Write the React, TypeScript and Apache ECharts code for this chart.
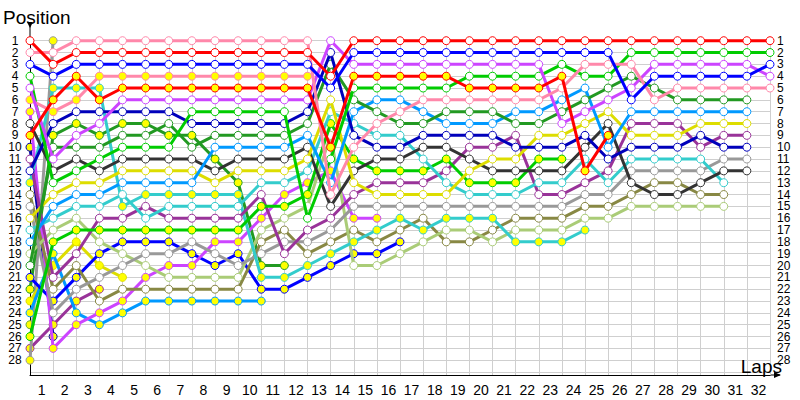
import React, { useEffect, useRef } from "react";
import * as echarts from "echarts";

// Lap numbers (x) — lap 0 is the starting grid
const LAPS = [0, 1, 2, 3, 4, 5, 6, 7, 8, 9, 10, 11, 12, 13, 14, 15, 16, 17, 18, 19, 20, 21, 22, 23, 24, 25, 26, 27, 28, 29, 30, 31, 32];
const LAP_LABELS = ["1", "2", "3", "4", "5", "6", "7", "8", "9", "10", "11", "12", "13", "14", "15", "16", "17", "18", "19", "20", "21", "22", "23", "24", "25", "26", "27", "28", "29", "30", "31", "32"];
const POSITION_LABELS = ["1", "2", "3", "4", "5", "6", "7", "8", "9", "10", "11", "12", "13", "14", "15", "16", "17", "18", "19", "20", "21", "22", "23", "24", "25", "26", "27", "28"];

const N = null;
// Position of each car at the end of every lap (index = lap)
const RED_A = [1, 3, 2, 2, 2, 2, 2, 2, 2, 2, 2, 2, 2, 4, 1, 1, 1, 1, 1, 1, 1, 1, 1, 1, 1, 1, 1, 1, 1, 1, 1, 1, 1];
const PINK_A = [2, 2, 1, 1, 1, 1, 1, 1, 1, 1, 1, 1, 1, 14, 10, 8, 7, 6, 6, 6, 6, 6, 6, 5, 3, 3, 3, 6, 5, 5, 5, 5, 5];
const BLUE_A = [3, 4, 3, 3, 3, 3, 3, 3, 3, 3, 3, 3, 3, 5, 2, 2, 2, 2, 2, 2, 2, 2, 2, 2, 2, 2, 6, 4, 4, 4, 4, 4, 3];
const RED_B = [9, 6, 4, 6, 5, 5, 5, 5, 5, 5, 5, 5, 5, 10, 4, 4, 4, 4, 4, 5, 5, 5, 5, 4, 12, 9, N, N, N, N, N, N, N];
const PINK_B = [6, 7, 6, 4, 4, 4, 4, 4, 4, 4, 4, 4, 4, N, N, N, N, N, N, N, N, N, N, N, N, N, N, N, N, N, N, N, N];
const MAGENTA_A = [5, 11, 9, 8, 6, 6, 6, 6, 6, 6, 6, 6, 6, 1, 3, 3, 3, 3, 3, 3, 3, 3, 3, 8, 7, 6, 5, 3, 3, 3, 3, 3, 4];
const GREEN_A = [4, 13, 12, 11, 10, 10, 10, 7, 7, 7, 7, 7, 16, 11, 5, 5, 5, 5, 5, 4, 4, 4, 4, 3, 4, 4, 2, 2, 2, 2, 2, 2, 2];
const NAVY_A = [12, 8, 7, 7, 7, 7, 7, 8, 8, 8, 8, 8, 7, 2, 9, 10, 10, 9, 9, 9, 9, 10, 10, 10, 9, 11, 10, 10, 10, 9, 10, 10, N];
const DKGREEN_A = [20, 10, 10, 10, 9, 9, 8, 10, 9, 9, 9, 9, 8, 3, 6, 7, 8, 8, 7, 7, 7, 8, 8, 7, 6, 5, 4, 5, 6, 6, 6, 6, N];
const DKGREEN_B = [22, 9, 8, 9, 8, 8, 9, 9, 11, 13, 20, 20, N, N, N, N, N, N, N, N, N, N, N, N, N, N, N, N, N, N, N, N, N];
const LTBLUE_A = [18, 15, 14, 14, 13, 13, 13, 13, 10, 10, 10, 10, 9, 13, 7, 6, 6, 7, 8, 8, 8, 7, 7, 6, 5, 10, 7, 7, 7, 7, 7, 7, N];
const LTBLUE_B = [24, 19, 24, 25, 24, 23, 23, 23, 23, 23, 23, N, N, N, N, N, N, N, N, N, N, N, N, N, N, N, N, N, N, N, N, N, N];
const CYAN_B = [13, 5, 5, 5, 15, 14, 14, 14, 14, 14, 21, 21, 20, 19, 18, 17, 16, 17, 16, 16, 16, 18, 18, 18, 17, N, N, N, N, N, N, N, N];
const CYAN_A = [17, 16, 15, 15, 14, 16, 15, 15, 15, 15, 13, 13, 12, 7, 8, 9, 9, 11, 13, 14, 14, 14, 13, 13, 11, 13, 11, 11, 11, 11, 13, N, N];
const DKGRAY = [8, 12, 11, 12, 11, 11, 11, 11, 12, 11, 11, 11, 10, 15, 12, 11, 11, 10, 10, 11, 12, 12, 12, 12, 10, 8, 13, 14, 14, 13, 12, 12, N];
const YELLOW_A = [16, 14, 13, 13, 12, 12, 12, 12, 13, 12, 12, 12, 11, 6, 13, 14, 14, 14, 14, 12, 11, 11, 9, 9, 8, 7, 9, 9, 9, 8, 8, 8, N];
const YELLOW_B = [23, 20, 18, 20, 21, N, N, N, N, N, N, N, N, N, N, N, N, N, N, N, N, N, N, N, N, N, N, N, N, N, N, N, N];
const GREEN_B = [26, 18, 17, 17, 17, 17, 17, 17, 17, 17, 15, 15, 14, 8, 11, 12, 12, 12, 11, 13, 13, 13, 11, 11, N, N, N, N, N, N, N, N, N];
const BLUE_B = [21, 23, 21, 19, 18, 18, 18, 19, 20, 19, 22, 22, 21, 20, 19, 19, 18, N, N, N, N, N, N, N, N, N, N, N, N, N, N, N, N];
const MAGENTA_B = [7, 27, 25, 24, 23, 21, 20, 20, 18, 18, 16, 14, 13, 12, 16, 16, N, N, N, N, N, N, N, N, N, N, N, N, N, N, N, N, N];
const LTGREEN = [19, 17, 16, 18, 19, 20, 21, 21, 21, 21, 17, 16, 15, 9, 20, 20, 19, 18, 17, 17, 18, 17, 17, 17, 16, 16, 15, 15, 15, 15, 15, N, N];
const GRAY_A = [15, 24, 22, 21, 20, 19, 19, 18, 19, 20, 19, 18, 18, 17, 15, 15, 15, 15, 15, 15, 15, 15, 15, 15, 14, 14, 12, 12, 12, 12, 11, 11, N];
const GRAY_B = [28, 1, N, N, N, N, N, N, N, N, N, N, N, N, N, N, N, N, N, N, N, N, N, N, N, N, N, N, N, N, N, N, N];
const OLIVE = [14, 22, 20, 23, 22, 22, 22, 22, 22, 22, 18, 17, 19, 18, 17, 18, 17, 16, 18, 18, 17, 16, 16, 16, 15, 15, 14, 13, 13, 14, 14, N, N];
const PURPLE_A = [11, 21, 19, 16, 16, 15, 16, 16, 16, 16, 14, 19, 17, 16, 14, 13, 13, 13, 12, 10, 10, 9, 14, 14, 13, 12, 8, 8, 8, 10, 9, 9, N];
const PURPLE_B = [27, 25, 23, 22, N, N, N, N, N, N, N, N, N, N, N, N, N, N, N, N, N, N, N, N, N, N, N, N, N, N, N, N, N];
const NAVY_B = [10, 26, N, N, N, N, N, N, N, N, N, N, N, N, N, N, N, N, N, N, N, N, N, N, N, N, N, N, N, N, N, N, N];
const LIME_B = [25, N, N, N, N, N, N, N, N, N, N, N, N, N, N, N, N, N, N, N, N, N, N, N, N, N, N, N, N, N, N, N, N];

const WHITE = "#ffffff";
const YEL = "#ffff00";

const DRIVERS = [
  { name: "Lime B", data: LIME_B, color: "#66aa33", fill: YEL },
  { name: "Navy B", data: NAVY_B, color: "#0000aa", fill: YEL },
  { name: "Purple B", data: PURPLE_B, color: "#993399", fill: YEL },
  { name: "Gray B", data: GRAY_B, color: "#999999", fill: YEL },
  { name: "Yellow B", data: YELLOW_B, color: "#dddd00", fill: YEL },
  { name: "Light blue B", data: LTBLUE_B, color: "#0099ff", fill: YEL },
  { name: "Dark green B", data: DKGREEN_B, color: "#229922", fill: YEL },
  { name: "Blue B", data: BLUE_B, color: "#0000ff", fill: YEL },
  { name: "Magenta B", data: MAGENTA_B, color: "#cc44ff", fill: YEL },
  { name: "Olive", data: OLIVE, color: "#888844", fill: WHITE },
  { name: "Light green", data: LTGREEN, color: "#aacc77", fill: WHITE },
  { name: "Gray A", data: GRAY_A, color: "#999999", fill: WHITE },
  { name: "Cyan B", data: CYAN_B, color: "#33cccc", fill: YEL },
  { name: "Purple A", data: PURPLE_A, color: "#993399", fill: WHITE },
  { name: "Green B", data: GREEN_B, color: "#00cc00", fill: YEL },
  { name: "Cyan A", data: CYAN_A, color: "#33cccc", fill: WHITE },
  { name: "Dark gray", data: DKGRAY, color: "#333333", fill: WHITE },
  { name: "Yellow A", data: YELLOW_A, color: "#dddd00", fill: WHITE },
  { name: "Light blue A", data: LTBLUE_A, color: "#0099ff", fill: WHITE },
  { name: "Dark green A", data: DKGREEN_A, color: "#229922", fill: WHITE },
  { name: "Navy A", data: NAVY_A, color: "#0000bb", fill: WHITE },
  { name: "Green A", data: GREEN_A, color: "#00cc00", fill: WHITE },
  { name: "Pink B", data: PINK_B, color: "#ff88aa", fill: YEL },
  { name: "Magenta A", data: MAGENTA_A, color: "#cc44ff", fill: WHITE },
  { name: "Pink A", data: PINK_A, color: "#ff88aa", fill: WHITE },
  { name: "Blue A", data: BLUE_A, color: "#0000ff", fill: WHITE },
  { name: "Red B", data: RED_B, color: "#ff0000", fill: YEL },
  { name: "Red A", data: RED_A, color: "#ff0000", fill: WHITE },
];

const FONT = "Liberation Sans, Arial, sans-serif";
const GRID = { left: 30, top: 40.7, width: 740, height: 334.3 };

export default function App() {
  const ref = useRef<HTMLDivElement>(null);
  useEffect(() => {
    if (!ref.current) return;
    const chart = echarts.init(ref.current, undefined, { renderer: "svg" });
    const axisBottom = GRID.top + GRID.height;
    const axisRight = GRID.left + GRID.width;
    const posLabel = (v: number) => (Number.isInteger(v) && v >= 1 && v <= POSITION_LABELS.length ? POSITION_LABELS[v - 1] : "");
    const series = DRIVERS.map((d, k) => ({
      type: "line",
      name: d.name,
      xAxisIndex: 0,
      yAxisIndex: 0,
      data: d.data
        .map((p, i) => (p == null ? null : [LAPS[i], p]))
        .filter((x) => x !== null),
      symbol: "circle",
      symbolSize: 8,
      showAllSymbol: true,
      clip: false,
      silent: true,
      z: 2 + k * 0.01,
      lineStyle: { color: d.color, width: 3 },
      itemStyle: { color: d.fill, borderColor: d.color, borderWidth: 1 },
      emphasis: { disabled: true },
    }));
    chart.setOption({
      animation: false,
      backgroundColor: "#ffffff",
      textStyle: { fontFamily: FONT },
      grid: { ...GRID, containLabel: false },
      xAxis: [
        {
          type: "value",
          position: "bottom",
          min: 0,
          max: 32,
          interval: 1,
          axisLine: { show: true, onZero: false, lineStyle: { color: "#000", width: 1 } },
          axisTick: { show: false },
          splitLine: { show: true, lineStyle: { color: "#cfcfcf", width: 1 } },
          axisLabel: { show: false },
        },
        {
          // lap labels sit in the middle of each lap's band
          type: "category",
          position: "bottom",
          data: LAP_LABELS,
          boundaryGap: true,
          axisLine: { show: false },
          axisTick: { show: false },
          splitLine: { show: false },
          axisLabel: { interval: 0, color: "#000", fontSize: 14, fontFamily: FONT, margin: 8 },
        },
      ],
      yAxis: [
        {
          type: "value",
          inverse: true,
          min: 1,
          max: 29.25,
          interval: 1,
          position: "left",
          axisLine: { show: true, onZero: false, lineStyle: { color: "#000", width: 1 } },
          axisTick: { show: false },
          splitLine: { show: true, lineStyle: { color: "#cfcfcf", width: 1 } },
          axisLabel: { formatter: posLabel, color: "#000", fontSize: 12, lineHeight: 11, fontFamily: FONT, margin: 15, align: "center" },
        },
        {
          type: "value",
          inverse: true,
          min: 1,
          max: 29.25,
          interval: 1,
          position: "right",
          axisLine: { show: false },
          axisTick: { show: false },
          splitLine: { show: false },
          axisLabel: { formatter: posLabel, color: "#000", fontSize: 12, lineHeight: 11, fontFamily: FONT, margin: 7, align: "left" },
        },
      ],
      graphic: [
        { type: "line", shape: { x1: GRID.left, y1: GRID.top, x2: GRID.left, y2: 24 }, style: { stroke: "#000", lineWidth: 1 }, silent: true },
        { type: "polygon", shape: { points: [[GRID.left - 3, 22], [GRID.left + 3, 22], [GRID.left, 28]] }, style: { fill: "#000" }, silent: true },
        { type: "line", shape: { x1: axisRight, y1: axisBottom, x2: axisRight + 10, y2: axisBottom }, style: { stroke: "#000", lineWidth: 1 }, silent: true },
        { type: "polygon", shape: { points: [[axisRight + 4, axisBottom - 3], [axisRight + 4, axisBottom + 3], [axisRight + 11, axisBottom]] }, style: { fill: "#000" }, silent: true },
        { type: "text", x: 3, y: 17, style: { text: "Position", font: `19px ${FONT}`, fill: "#000", verticalAlign: "middle", align: "left" }, silent: true },
        { type: "text", x: 782, y: 366, style: { text: "Laps", font: `19px ${FONT}`, fill: "#000", verticalAlign: "middle", align: "right" }, silent: true, z: 100 },
      ],
      series,
    });
    return () => chart.dispose();
  }, []);
  return <div ref={ref} style={{ position: "absolute", left: 0, top: 0, width: 800, height: 400 }} />;
}
